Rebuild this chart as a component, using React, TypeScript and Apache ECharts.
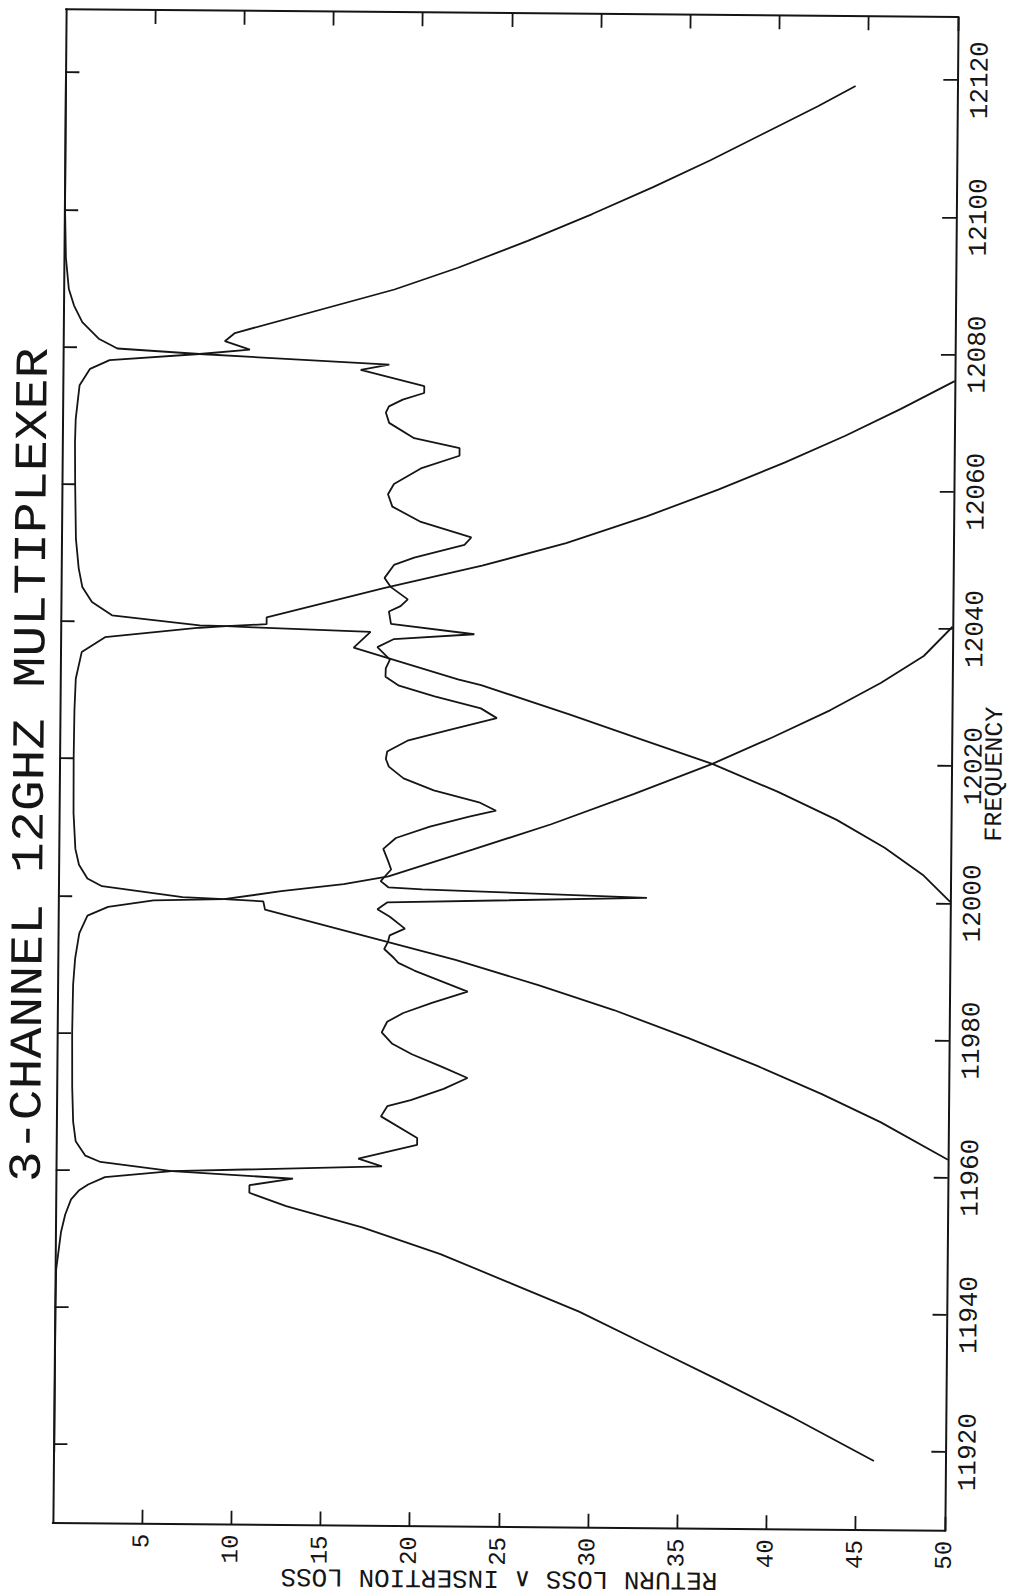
import React, { useEffect, useRef } from "react";
import * as echarts from "echarts";

// Tick values
const freqTicks = [11920, 11940, 11960, 11980, 12000, 12020, 12040, 12060, 12080, 12100, 12120];
const lossTicks = [5, 10, 15, 20, 25, 30, 35, 40, 45, 50];

// Common-port return loss
const rlFreq = [11918.8, 11930, 11940, 11945.5, 11950.9, 11953.5, 11955.7, 11957.0, 11957.9, 11959.0, 11959.96, 11960.9, 11962.0, 11964.1, 11965.1, 11968.2, 11969.7, 11970.6, 11972.3, 11973.9, 11975.5, 11977.3, 11978.8, 11980.45, 11982.0, 11983.3, 11984.8, 11986.5, 11988.0, 11989.5, 11990.6, 11991.3, 11992.6, 11993.6, 11994.6, 11995.6, 11997.3, 11998.4, 11999.4, 12000.4, 12001.35, 12001.6, 12002.5, 12004.2, 12005.6, 12007.2, 12008.8, 12010.5, 12012.0, 12012.9, 12014.05, 12015.8, 12017.5, 12019.2, 12020.3, 12021.4, 12023.0, 12024.6, 12026.4, 12027.8, 12029.5, 12031.0, 12032.3, 12033.5, 12034.8, 12036.6, 12037.8, 12038.6, 12040.0, 12041.8, 12042.6, 12043.6, 12045.4, 12046.7, 12048.6, 12049.7, 12051.6, 12052.7, 12054.9, 12057.1, 12058.9, 12060.4, 12062.7, 12064.6, 12065.7, 12067.1, 12069.3, 12070.8, 12071.7, 12072.7, 12073.7, 12074.7, 12077.0, 12077.8, 12079.1, 12079.8, 12081.2, 12083.6, 12086.0, 12088.4, 12093.0, 12100.0, 12110.0, 12119.0];
const rlLoss = [0.05, 0.05, 0.05, 0.07, 0.32, 0.55, 0.87, 1.3, 1.82, 2.76, 6.5, 18.28, 16.95, 20.24, 20.24, 18.2, 18.55, 19.86, 21.7, 23.03, 21.6, 19.9, 18.8, 18.2, 18.5, 19.4, 21.0, 23.0, 21.5, 20.0, 19.1, 18.85, 18.3, 18.5, 18.6, 19.45, 18.6, 17.9, 18.44, 33.0, 20.4, 18.5, 18.07, 18.65, 18.45, 18.2, 18.9, 20.8, 23.0, 24.5, 23.6, 21.0, 19.3, 18.47, 18.3, 18.37, 19.5, 21.8, 24.5, 23.6, 21.0, 19.0, 18.24, 18.25, 18.48, 17.77, 18.7, 23.2, 18.52, 18.4, 19.05, 19.45, 18.48, 18.14, 18.66, 19.79, 22.6, 22.98, 20.15, 18.54, 18.29, 18.62, 20.12, 22.28, 22.28, 19.73, 18.32, 18.13, 18.3, 19.07, 20.27, 20.27, 16.7, 18.3, 7.66, 3.05, 2.0, 1.07, 0.6, 0.3, 0.12, 0.05, 0.04, 0.03];

// Channel 1 insertion loss
const il1Freq = [11918.6, 11925, 11930, 11935, 11940, 11944, 11948.2, 11952, 11955.0, 11956.9, 11958.0, 11959.0, 11959.96, 11961.2, 11962.1, 11964.2, 11967, 11972, 11980, 11987, 11990.8, 11994.5, 11997.1, 11998.4, 11999.4, 11999.66, 12000.9, 12002.0, 12003.2, 12007.2, 12011, 12015.5, 12020, 12024, 12028, 12032, 12036, 12040.3];
const il1Loss = [46.0, 41.3, 37.4, 33.4, 29.4, 25.6, 21.6, 17.2, 12.93, 10.86, 10.86, 13.3, 6.5, 2.5, 1.65, 1.1, 0.95, 0.88, 0.85, 0.88, 0.98, 1.2, 1.65, 2.8, 5.35, 9.3, 12.5, 16.0, 18.5, 23.2, 27.6, 32.2, 36.6, 40.0, 43.2, 46.0, 48.4, 50.0];

// Channel 2 insertion loss
const il2Freq = [11962.6, 11968, 11972, 11976, 11980, 11984, 11987.5, 11991.1, 11998.2, 11999.4, 11999.66, 11999.9, 12001.4, 12002.5, 12004.5, 12006.8, 12012, 12020, 12027, 12031.6, 12035.5, 12037.7, 12039.2, 12039.46, 12039.8, 12040.8, 12045.2, 12048.6, 12052, 12056, 12060, 12064, 12068, 12072, 12076.1];
const il2Loss = [50.0, 46.2, 42.9, 39.3, 35.4, 31.2, 27.0, 22.3, 11.6, 11.5, 9.3, 6.97, 2.45, 1.63, 1.15, 0.94, 0.82, 0.8, 0.82, 0.88, 1.2, 2.5, 7.8, 9.3, 11.55, 11.55, 18.1, 23.6, 28.3, 32.8, 36.8, 40.5, 43.9, 47.0, 50.0];

// Channel 3 insertion loss
const il3Freq = [12000.2, 12004, 12008, 12012, 12016, 12020, 12023.5, 12027, 12031.2, 12032.0, 12036.5, 12038.8, 12039.33, 12039.46, 12039.55, 12040.9, 12042.8, 12045, 12047.7, 12052, 12060, 12066, 12069.5, 12074.4, 12076.8, 12078.1, 12079.1, 12079.8, 12081.0, 12082.2, 12088.75, 12092, 12096, 12100, 12104, 12108, 12112, 12116, 12119];
const il3Loss = [50.0, 48.5, 46.3, 43.6, 40.3, 36.6, 32.6, 28.6, 23.6, 22.3, 16.44, 17.38, 10.8, 9.3, 7.8, 2.88, 1.75, 1.2, 0.99, 0.82, 0.75, 0.72, 0.75, 0.95, 1.53, 2.62, 7.66, 10.48, 9.07, 9.63, 18.55, 22.1, 26.0, 29.6, 33.0, 36.2, 39.2, 42.2, 44.3];

const INK = "#151515";
const MONO = '"Liberation Mono", "DejaVu Sans Mono", monospace';

function toPairs(loss: number[], freq: number[]) {
  return freq.map((f, i) => [loss[i], f]);
}

function lineSeries(name: string, loss: number[], freq: number[]) {
  return {
    name,
    type: "line",
    xAxisIndex: 0,
    yAxisIndex: 0,
    data: toPairs(loss, freq),
    showSymbol: false,
    symbol: "none",
    smooth: false,
    silent: true,
    lineStyle: { color: INK, width: 1.8 },
  };
}

export default function App() {
  const ref = useRef<HTMLDivElement>(null);

  useEffect(() => {
    document.body.style.margin = "0";
    if (!ref.current) return;
    const chart = echarts.init(ref.current, null, { renderer: "svg" });
    const axisLine = { show: true, onZero: false, lineStyle: { color: INK, width: 2 } };
    const tickStyle = { color: INK, width: 1.8 };
    const plain = (v: number) => String(Math.round(v));
    chart.setOption({
      animation: false,
      backgroundColor: "#ffffff",
      grid: { left: 59.3, top: 13, width: 892, height: 1514, containLabel: false },
      xAxis: [
        {
          type: "value",
          position: "bottom",
          min: 0,
          max: 50,
          axisLine,
          splitLine: { show: false },
          axisTick: { show: true, inside: true, length: 14, customValues: lossTicks, lineStyle: tickStyle },
          axisLabel: {
            show: true,
            customValues: lossTicks,
            formatter: plain,
            rotate: 90,
            margin: 10,
            color: INK,
            fontFamily: MONO,
            fontSize: 24,
          },
        },
        {
          type: "value",
          position: "top",
          min: 0,
          max: 50,
          axisLine,
          splitLine: { show: false },
          axisTick: { show: true, inside: true, length: 14, customValues: lossTicks, lineStyle: tickStyle },
          axisLabel: { show: false },
        },
      ],
      yAxis: [
        {
          type: "value",
          position: "right",
          min: 11908.5,
          max: 12129.2,
          axisLine,
          splitLine: { show: false },
          axisTick: { show: true, inside: true, length: 14, customValues: freqTicks, lineStyle: tickStyle },
          axisLabel: {
            show: true,
            customValues: freqTicks,
            formatter: plain,
            rotate: 90,
            margin: 10,
            color: INK,
            fontFamily: MONO,
            fontSize: 26,
          },
        },
        {
          type: "value",
          position: "left",
          min: 11908.5,
          max: 12129.2,
          axisLine,
          splitLine: { show: false },
          axisTick: { show: true, inside: true, length: 14, customValues: freqTicks, lineStyle: tickStyle },
          axisLabel: { show: false },
        },
      ],
      graphic: [
        {
          type: "text",
          x: 31,
          y: 769,
          rotation: Math.PI / 2,
          scaleX: 1.12,
          silent: true,
          style: {
            text: "3-CHANNEL 12GHZ MULTIPLEXER",
            fill: INK,
            fontFamily: MONO,
            fontSize: 46,
            align: "center",
            verticalAlign: "middle",
          },
        },
        {
          type: "text",
          x: 995,
          y: 770,
          rotation: Math.PI / 2,
          silent: true,
          style: {
            text: "FREQUENCY",
            fill: INK,
            fontFamily: MONO,
            fontSize: 25,
            align: "center",
            verticalAlign: "middle",
          },
        },
        {
          type: "text",
          x: 506,
          y: 1578,
          rotation: Math.PI,
          silent: true,
          style: {
            text: "RETURN LOSS \u2227 INSERTION LOSS",
            fill: INK,
            fontFamily: MONO,
            fontSize: 26,
            align: "center",
            verticalAlign: "middle",
          },
        },
      ],
      series: [
        lineSeries("Return loss", rlLoss, rlFreq),
        lineSeries("Channel 1", il1Loss, il1Freq),
        lineSeries("Channel 2", il2Loss, il2Freq),
        lineSeries("Channel 3", il3Loss, il3Freq),
      ],
    });
    return () => chart.dispose();
  }, []);

  return (
    <div style={{ position: "fixed", left: 0, top: 0, width: 1012, height: 1594, overflow: "hidden", background: "#ffffff" }}>
      <div
        ref={ref}
        style={{
          position: "absolute",
          left: 0,
          top: 0,
          width: 1012,
          height: 1594,
          transform: "rotate(0.5deg)",
          transformOrigin: "505.3px 770px",
        }}
      />
    </div>
  );
}
